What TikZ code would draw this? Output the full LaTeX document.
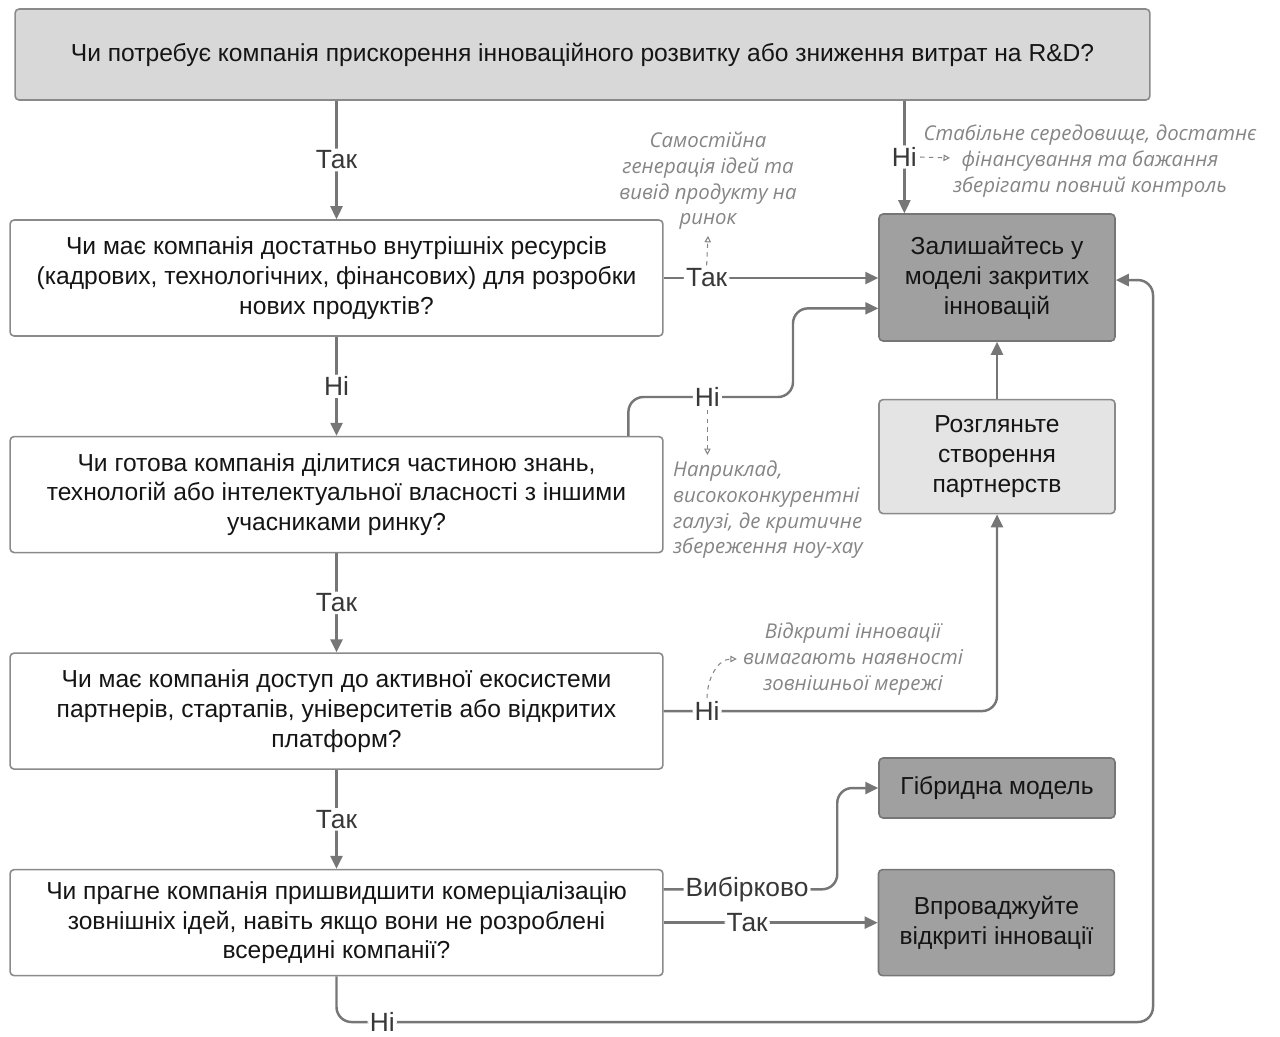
\documentclass[tikz,border=0pt]{standalone}
\usepackage{fontspec}
\setmainfont{Liberation Sans}
\newfontfamily\notefont{Open Sans}
\usetikzlibrary{positioning,arrows.meta,calc}
\definecolor{edge}{HTML}{767676}
\definecolor{boxline}{HTML}{8A8A8A}
\definecolor{darkbg}{HTML}{A0A0A0}
\definecolor{lightbg}{HTML}{D8D8D8}
\definecolor{partbg}{HTML}{E4E4E4}
\definecolor{notegray}{HTML}{858585}
\definecolor{ink}{HTML}{151515}

\begin{document}
\begin{tikzpicture}[
    x=0.02cm, y=-0.02cm,
    node distance=1.98cm,
    question/.style={draw=boxline, line width=0.9pt, fill=white, rounded corners=0.8mm, minimum width=13.06cm, minimum height=2.32cm, align=center, text=ink, font=\fontsize{14}{17}\selectfont},
    topq/.style={question, fill=lightbg, minimum width=22.7cm, minimum height=1.82cm},
    result/.style={question, fill=darkbg, draw=edge, minimum width=4.72cm},
    stage/.style={question, fill=partbg, minimum width=4.72cm},
    note/.style={align=center, text=notegray, font=\notefont\itshape\fontsize{11.6}{14.6}\selectfont},
    lbl/.style={fill=white, inner sep=1.2pt, text=ink!85, font=\fontsize{15}{17}\selectfont},
    arr/.style={-{Triangle[length=2.6mm, width=2.4mm]}, line width=1.4pt, draw=edge, rounded corners=0.3cm},
    note arr/.style={-{Triangle[open, length=1.3mm, width=1.3mm]}, line width=0.6pt, draw=notegray, dash pattern=on 2.5pt off 2.5pt}
]
    \useasboundingbox (0,0) rectangle (1280,1036);

    % questions
    \node[topq] (top) at (582.5,54.5) {Чи потребує компанія прискорення інноваційного розвитку або зниження витрат на R\&D?};
    \node[question] (q1) at (336.5,278) {Чи має компанія достатньо внутрішніх ресурсів\\(кадрових, технологічних, фінансових) для розробки\\нових продуктів?};
    \node[question, below=of q1] (q2) {Чи готова компанія ділитися частиною знань,\\технологій або інтелектуальної власності з іншими\\учасниками ринку?};
    \node[question, below=of q2] (q3) {Чи має компанія доступ до активної екосистеми\\партнерів, стартапів, університетів або відкритих\\платформ?};
    \node[question, below=of q3, minimum height=2.12cm] (q4) {Чи прагне компанія пришвидшити комерціалізацію\\зовнішніх ідей, навіть якщо вони не розроблені\\всередині компанії?};

    % outcomes
    \node[result, minimum height=2.54cm] (closed) at (997,277.5) {Залишайтесь у\\моделі закритих\\інновацій};
    \node[stage, below=1.14cm of closed, minimum height=2.28cm] (partner) {Розгляньте\\створення\\партнерств};
    \node[result, minimum height=1.2cm] (hybrid) at (997,788) {Гібридна модель};
    \node[result, right=4.28cm of q4, minimum height=2.12cm] (open) {Впроваджуйте\\відкриті інновації};

    % notes
    \node[note] (note1) at (1090,161) {Стабільне середовище, достатнє\\фінансування та бажання\\зберігати повний контроль};
    \node[note] (note2) at (708,181) {Самостійна\\генерація ідей та\\вивід продукту на\\ринок};
    \node[note, align=left, anchor=north west] (note3) at (667,455) {Наприклад,\\висококонкурентні\\галузі, де критичне\\збереження ноу-хау};
    \node[note] (note4) at (853,659) {Відкриті інновації\\вимагають наявності\\зовнішньої мережі};

    \coordinate (cin) at ($(closed.north west)!0.11!(closed.north east)$);
    \coordinate (cin2) at ($(closed.north west)!0.74!(closed.south west)$);
    \coordinate (cin3) at ($(closed.north east)!0.52!(closed.south east)$);
    \coordinate (q2out) at ($(q2.north west)!0.946!(q2.north east)$);
    \coordinate (q4a) at ($(q4.north east)!0.19!(q4.south east)$);
    \coordinate (tip1) at (950,158);

    \draw[arr] (top.south -| q1.north) -- node[lbl] {Так} (q1);
    \draw[arr] (top.south -| cin) -- node[lbl] (n1) {Ні} (cin);
    \draw[arr] (q1.east) -- node[lbl, pos=0.2] (n2) {Так} (q1.east -| closed.west);
    \draw[arr] (q1) -- node[lbl] {Ні} (q2);
    \draw[arr] (q2out) |- node[lbl, pos=0.74] (n3) {Ні} (793,397) |- (cin2);
    \draw[arr] (q2) -- node[lbl] {Так} (q3);
    \draw[arr] (q3.east) -| node[lbl, pos=0.065] (n4) {Ні} (partner.south);
    \draw[arr] (partner) -- (closed);
    \draw[arr] (q3) -- node[lbl] {Так} (q4);
    \draw[arr] (q4a) -| node[lbl, pos=0.24] {Вибірково} ($(hybrid.west)+(-41,0)$) -- (hybrid.west);
    \draw[arr] (q4) -- node[lbl, pos=0.39] {Так} (open);
    \draw[arr] (q4.south) |- node[lbl, pos=0.528] {Ні} (1153,1022) |- (cin3);

    \draw[note arr] (n1.east) -- (tip1);
    \draw[note arr] (n2.north) -- (note2.south);
    \draw[note arr] (n3.south) -- (n3.south |- note3.north);
    \draw[note arr] (n4.north) to[out=90, in=180] (note4.west);
\end{tikzpicture}
\end{document}
